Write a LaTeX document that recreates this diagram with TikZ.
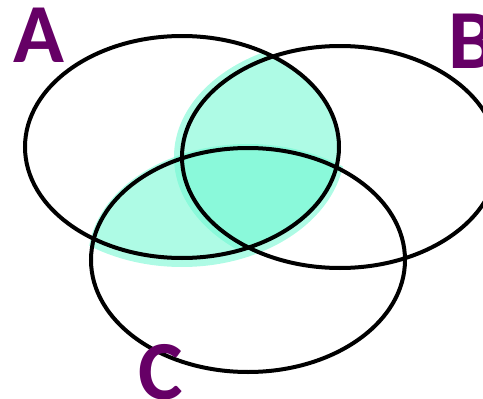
\documentclass[tikz,border=0pt]{standalone}
\usepackage{fontspec}
\setmainfont{Carlito}
\definecolor{labelpurple}{RGB}{102,0,102}
\definecolor{tealfill}{RGB}{108,248,208}
\begin{document}
\begin{tikzpicture}[x=1pt,y=-1pt,
  setline/.style={draw=black,line width=4pt},
  setlabel/.style={text=labelpurple,font=\bfseries\fontsize{84}{84}\selectfont,inner sep=0pt,anchor=base west},
  shade/.style={fill=tealfill,fill opacity=0.55}]
\useasboundingbox (0,0) rectangle (483,399);
% shaded A and B
\begin{scope}
  \clip (182,147) ellipse [x radius=158, y radius=113];
  \fill[shade] (340,157) ellipse [x radius=166, y radius=118];
\end{scope}
% shaded A and C
\begin{scope}
  \clip (182,147) ellipse [x radius=163, y radius=120];
  \fill[shade] (248,260) ellipse [x radius=160, y radius=116];
\end{scope}
\draw[setline] (182,147) ellipse [x radius=157, y radius=111];
\draw[setline] (340,157) ellipse [x radius=158, y radius=111];
\draw[setline] (248,260) ellipse [x radius=157, y radius=112];
\node[setlabel] (la) at (13,62) {A};
\node[setlabel] (lb) at (448,68) {B};
\node[setlabel] (lc) at (138,399) {C};
\end{tikzpicture}
\end{document}
